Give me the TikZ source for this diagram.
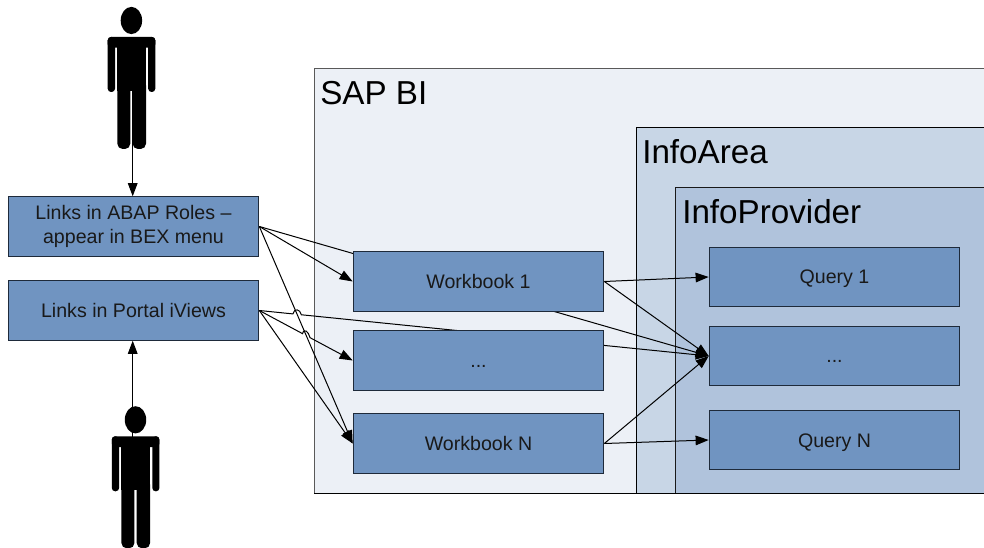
\documentclass[tikz,border=0pt]{standalone}
\usepackage{fontspec}
\setmainfont{Liberation Sans}
\usetikzlibrary{arrows.meta,calc}
\pgfdeclarelayer{frames}
\pgfdeclarelayer{front}
\pgfsetlayers{frames,main,front}
\definecolor{boxblue}{HTML}{7094C1}
\definecolor{boxline}{HTML}{1E2A3A}
\definecolor{sapfill}{HTML}{ECF0F6}
\definecolor{areafill}{HTML}{C8D6E6}
\definecolor{provfill}{HTML}{B0C3DC}
\tikzset{
  bluebox/.style={draw=boxline,line width=0.75pt,fill=boxblue,minimum width=188pt,minimum height=44.6pt,
    inner sep=0pt,align=center,font=\fontsize{14.7pt}{17.4pt}\selectfont,text=black!90},
  oneline/.style={bluebox,text height=10.5pt,text depth=0pt},
  title/.style={anchor=base west,inner sep=0pt,font=\fontsize{24.9pt}{28pt}\selectfont},
  link/.style={draw=black,line width=0.75pt},
  arrowlink/.style={link,-{Triangle[length=9.8pt,width=7.2pt]}},
}
\newcommand{\personfig}[2]{%
  \begin{scope}[shift={(#1,#2)},fill=black]
    \fill (131.4,20.5) ellipse [x radius=10.7,y radius=13.6];
    \fill[rounded corners=2.5pt] (107.7,37) rectangle (115,92);
    \fill[rounded corners=2.5pt] (148.2,37) rectangle (155.3,92);
    \fill[rounded corners=2.5pt] (107.7,37) rectangle (155.3,47.7);
    \fill (117.3,40) rectangle (146,91);
    \fill[rounded corners=4pt] (117.3,80) rectangle (130.3,149);
    \fill[rounded corners=4pt] (132.6,80) rectangle (146,149);
  \end{scope}}
\begin{document}
\begin{tikzpicture}[x=0.75pt,y=-0.75pt]
\useasboundingbox (0,0) rectangle (984,548);
\clip (0,0) rectangle (984,548);
\begin{pgfonlayer}{frames}
  \fill[sapfill] (314,69) rectangle (1000,493);
  \draw[black!65,line width=0.75pt] (314,493) -- (314,69) -- (1000,69);
  \draw[black,line width=0.75pt,fill=areafill] (1000,128) -- (636,128) -- (636,493) -- (1000,493);
  \draw[black!90,line width=0.75pt,fill=provfill] (1000,188) -- (675,188) -- (675,493) -- (1000,493);
  \draw[black,line width=0.75pt] (314,493) -- (1000,493);
  \node[title] (sapbi) at (320,105) {SAP BI};
  \node[title] (infoarea) at (642,164) {InfoArea};
  \node[title] (infoprov) at (682,224) {InfoProvider};
\end{pgfonlayer}
\begin{pgfonlayer}{front}
  \node[bluebox] (abap) at (133.5,226.5) {Links in ABAP Roles –\\appear in BEX menu};
  \node[oneline] (portal) at (133.5,310.5) {Links in Portal iViews};
  \node[oneline] (wb1) at (478.5,281.5) {Workbook 1};
  \node[oneline] (wbm) at (478.5,360.5) {...};
  \node[oneline] (wbn) at (478.5,443.5) {Workbook N};
  \node[oneline] (q1) at (834.5,277) {Query 1};
  \node[oneline] (qm) at (834.5,356) {...};
  \node[oneline] (qn) at (834.5,440) {Query N};
  \personfig{0}{0}
  \personfig{4.1}{399.3}
\end{pgfonlayer}
\coordinate (pa) at (132.7,90);
\coordinate (pb) at (132.7,470);
\draw[arrowlink] (pa) -- (pa |- abap.north);
\draw[arrowlink] (pb) -- (pb |- portal.south);
% crossings with the ABAP to Workbook N line
\coordinate (j1) at (intersection of abap.east--wbn.west and portal.east--qm.west);
\coordinate (j2) at (intersection of abap.east--wbn.west and portal.east--wbm.west);
\draw[arrowlink] (abap.east) -- (wb1.west);
\draw[arrowlink] (abap.east) -- (wbn.west);
\draw[arrowlink] (abap.east) -- (qm.west);
\draw[arrowlink] (portal.east) -- ($(j1)!3.2pt!(portal.east)$)
   .. controls +(1.5,-6) and +(-1.5,-6) .. ($(j1)!3.2pt!(qm.west)$) -- (qm.west);
\draw[arrowlink] (portal.east) -- ($(j2)!3.2pt!(portal.east)$)
   .. controls +(1.5,-6) and +(-1.5,-6) .. ($(j2)!3.2pt!(wbm.west)$) -- (wbm.west);
\draw[arrowlink] (portal.east) -- (wbn.west);
\draw[arrowlink] (wb1.east) -- (q1.west);
\draw[arrowlink] (wb1.east) -- (qm.west);
\draw[arrowlink] (wbn.east) -- (qm.west);
\draw[arrowlink] (wbn.east) -- (qn.west);
\end{tikzpicture}
\end{document}
